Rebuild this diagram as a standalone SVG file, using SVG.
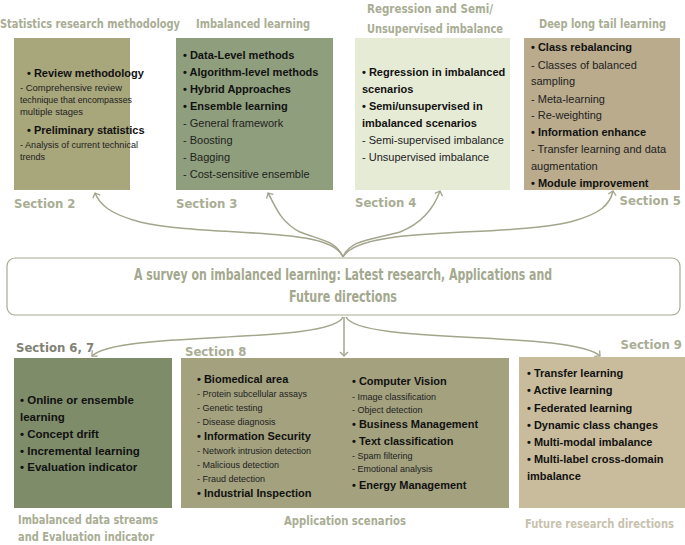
<svg xmlns="http://www.w3.org/2000/svg" width="685" height="545" viewBox="0 0 685 545">
<defs>
<style>
.h{font-family:"DejaVu Sans Condensed","DejaVu Sans",sans-serif;font-size:13px;font-weight:bold;fill:#a9ad94}
.hd{font-family:"DejaVu Sans Condensed","DejaVu Sans",sans-serif;font-size:13px;font-weight:bold;fill:#7f8275}
.b{font-family:"Liberation Sans",Arial,sans-serif;font-size:11px;font-weight:bold;fill:#111}
.s{font-family:"Liberation Sans",Arial,sans-serif;font-size:11px;fill:#222}
.t{font-family:"Liberation Sans",Arial,sans-serif;font-size:9px;fill:#222}
.bb{font-family:"Liberation Sans",Arial,sans-serif;font-size:11.5px;font-weight:bold;fill:#111}
.c{fill:none;stroke:#a3a58c;stroke-width:1.5}
.m{font-family:"DejaVu Sans Condensed","DejaVu Sans",sans-serif;font-size:15px;font-weight:bold;fill:#a3a88e}
</style>
<marker id="a" markerWidth="10" markerHeight="10" refX="5" refY="5" orient="auto" markerUnits="userSpaceOnUse">
<path d="M1,1 L5,5 L1,9" fill="none" stroke="#a3a58c" stroke-width="1.3"/>
</marker>
</defs>
<rect width="685" height="545" fill="#fff"/>
<g id="connectors">
<path class="c" marker-end="url(#a)" d="M343,257 C 330,225 210,238 140,222 C 110,214 100,205 95,193"/>
<path class="c" marker-end="url(#a)" d="M343,257 C 335,240 320,240 300,232 C 280,222 275,205 268,193"/>
<path class="c" marker-end="url(#a)" d="M343,257 C 350,240 370,240 400,232 C 425,222 435,205 440,191"/>
<path class="c" marker-end="url(#a)" d="M343,257 C 360,225 500,238 570,222 C 600,214 610,205 613,191"/>
<path class="c" marker-end="url(#a)" d="M343,317 C 330,345 120,330 92,356"/>
<path class="c" marker-end="url(#a)" d="M344,317 L344,356"/>
<path class="c" marker-end="url(#a)" d="M346,317 C 360,345 570,330 600,356"/>
</g>
<g id="n1">
<text class="h" x="0" y="28" textLength="180" lengthAdjust="spacingAndGlyphs">Statistics research methodology</text>
<rect x="14" y="38" width="116" height="152" fill="#a8a67b"/>
<text class="b" x="27" y="77">• Review methodology</text>
<text class="t" x="20" y="91" textLength="102" lengthAdjust="spacingAndGlyphs">- Comprehensive review</text>
<text class="t" x="20" y="103" textLength="112" lengthAdjust="spacingAndGlyphs">technique that encompasses</text>
<text class="t" x="20" y="115" textLength="63" lengthAdjust="spacingAndGlyphs">multiple stages</text>
<text class="b" x="27" y="134">• Preliminary statistics</text>
<text class="t" x="20" y="148" textLength="118" lengthAdjust="spacingAndGlyphs">- Analysis of current technical</text>
<text class="t" x="20" y="160">trends</text>
<text class="h" x="14" y="208">Section 2</text>
</g>
<g id="n2">
<text class="h" x="196" y="28" textLength="114" lengthAdjust="spacingAndGlyphs">Imbalanced learning</text>
<rect x="176" y="38" width="157" height="152" fill="#8f9e7c"/>
<text class="b" x="183" y="59">• Data-Level methods</text>
<text class="b" x="183" y="76">• Algorithm-level methods</text>
<text class="b" x="183" y="93">• Hybrid Approaches</text>
<text class="b" x="183" y="110">• Ensemble learning</text>
<text class="s" x="183" y="127">- General framework</text>
<text class="s" x="183" y="144">- Boosting</text>
<text class="s" x="183" y="161">- Bagging</text>
<text class="s" x="183" y="178">- Cost-sensitive ensemble</text>
<text class="h" x="176" y="208">Section 3</text>
</g>
<g id="n3">
<text class="h" x="367" y="13" textLength="126" lengthAdjust="spacingAndGlyphs">Regression and Semi/</text>
<text class="h" x="367" y="33" textLength="136" lengthAdjust="spacingAndGlyphs">Unsupervised imbalance</text>
<rect x="355" y="38" width="155" height="152" fill="#e6ebd6"/>
<text class="b" x="362" y="76">• Regression in imbalanced</text>
<text class="b" x="362" y="93">scenarios</text>
<text class="b" x="362" y="110">• Semi/unsupervised in</text>
<text class="b" x="362" y="127">imbalanced scenarios</text>
<text class="s" x="362" y="144">- Semi-supervised imbalance</text>
<text class="s" x="362" y="161">- Unsupervised imbalance</text>
<text class="h" x="355" y="207">Section 4</text>
</g>
<g id="n4">
<text class="h" x="539" y="28" textLength="127" lengthAdjust="spacingAndGlyphs">Deep long tail learning</text>
<rect x="524" y="38" width="156" height="152" fill="#b9ab8c"/>
<text class="b" x="531" y="51">• Class rebalancing</text>
<text class="s" x="531" y="69">- Classes of balanced</text>
<text class="s" x="531" y="85">sampling</text>
<text class="s" x="531" y="103">- Meta-learning</text>
<text class="s" x="531" y="119">- Re-weighting</text>
<text class="b" x="531" y="136">• Information enhance</text>
<text class="s" x="531" y="153">- Transfer learning and data</text>
<text class="s" x="531" y="170">augmentation</text>
<text class="b" x="531" y="187">• Module improvement</text>
<text class="h" x="681" y="205" text-anchor="end">Section 5</text>
</g>
<g id="center">
<rect x="7" y="258" width="673" height="57" rx="8" fill="#fff" stroke="#a8aa92" stroke-width="1.2"/>
<text class="m" x="343" y="280" text-anchor="middle" textLength="418" lengthAdjust="spacingAndGlyphs">A survey on imbalanced learning: Latest research, Applications and</text>
<text class="m" x="343" y="302" text-anchor="middle" textLength="108" lengthAdjust="spacingAndGlyphs">Future directions</text>
</g>
<g id="n5">
<text class="hd" x="16" y="352">Section 6, 7</text>
<rect x="14" y="358" width="158" height="150" fill="#7e8c6a"/>
<text class="bb" x="20" y="404">• Online or ensemble</text>
<text class="bb" x="20" y="421">learning</text>
<text class="bb" x="20" y="438">• Concept drift</text>
<text class="bb" x="20" y="455">• Incremental learning</text>
<text class="bb" x="20" y="471">• Evaluation indicator</text>
<text class="h" x="18" y="524" textLength="140" lengthAdjust="spacingAndGlyphs">Imbalanced data streams</text>
<text class="h" x="18" y="541" textLength="136" lengthAdjust="spacingAndGlyphs">and Evaluation indicator</text>
</g>
<g id="n6">
<text class="h" x="185" y="356">Section 8</text>
<rect x="181" y="358" width="328" height="150" fill="#a3a17e"/>
<text class="b" x="197" y="383">• Biomedical area</text>
<text class="t" x="197" y="397">- Protein subcellular assays</text>
<text class="t" x="197" y="411">- Genetic testing</text>
<text class="t" x="197" y="425">- Disease diagnosis</text>
<text class="b" x="197" y="440">• Information Security</text>
<text class="t" x="197" y="454">- Network intrusion detection</text>
<text class="t" x="197" y="468">- Malicious detection</text>
<text class="t" x="197" y="482">- Fraud detection</text>
<text class="b" x="197" y="497">• Industrial Inspection</text>
<text class="b" x="352" y="385">• Computer Vision</text>
<text class="t" x="352" y="400">- Image classification</text>
<text class="t" x="352" y="413">- Object detection</text>
<text class="b" x="352" y="428">• Business Management</text>
<text class="b" x="352" y="445">• Text classification</text>
<text class="t" x="352" y="459">- Spam filtering</text>
<text class="t" x="352" y="472">- Emotional analysis</text>
<text class="b" x="352" y="489">• Energy Management</text>
<text class="h" x="345" y="525" text-anchor="middle" textLength="122" lengthAdjust="spacingAndGlyphs">Application scenarios</text>
</g>
<g id="n7">
<text class="h" x="682" y="349" text-anchor="end">Section 9</text>
<rect x="519" y="357" width="166" height="151" fill="#c8bc9c"/>
<text class="b" x="527" y="377">• Transfer learning</text>
<text class="b" x="527" y="394">• Active learning</text>
<text class="b" x="527" y="412">• Federated learning</text>
<text class="b" x="527" y="429">• Dynamic class changes</text>
<text class="b" x="527" y="446">• Multi-modal imbalance</text>
<text class="b" x="527" y="463">• Multi-label cross-domain</text>
<text class="b" x="527" y="480">imbalance</text>
<text class="h" x="525" y="528" textLength="149" lengthAdjust="spacingAndGlyphs" style="fill:#c8c2ae">Future research directions</text>
</g>
</svg>
